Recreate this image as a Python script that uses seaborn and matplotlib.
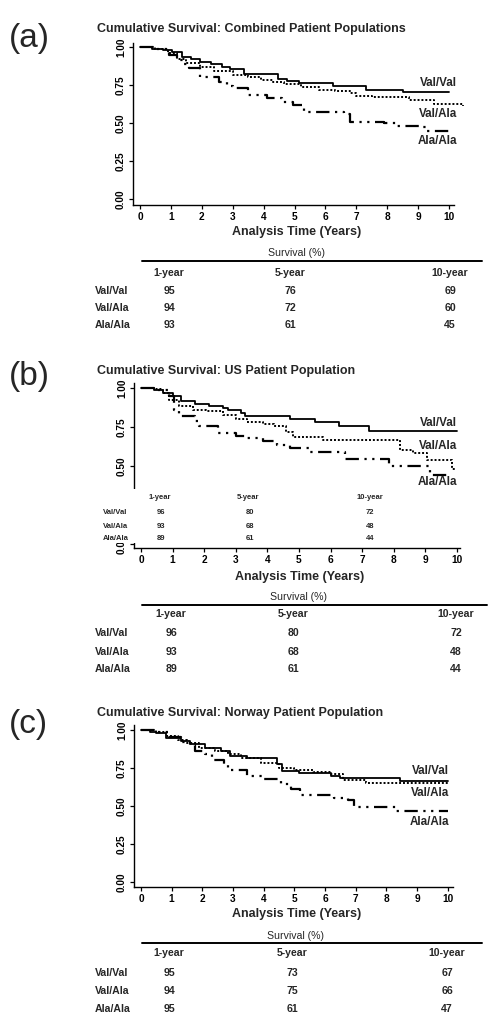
import numpy as np
import pandas as pd
import seaborn as sns
import matplotlib
matplotlib.use("Agg")
import matplotlib.pyplot as plt
from matplotlib.lines import Line2D
from matplotlib.patches import Rectangle

genotypes = ["Val/Val", "Val/Ala", "Ala/Ala"]
years = ["1-year", "5-year", "10-year"]
panel_letters = ["(a)", "(b)", "(c)"]
titles = ["Cumulative Survival: Combined Patient Populations",
          "Cumulative Survival: US Patient Population",
          "Cumulative Survival: Norway Patient Population"]

# (a) combined - step curves
a_vv_t = [0, 0.4, 0.75, 1.05, 1.35, 1.65, 1.95, 2.3, 2.65, 2.9, 3.35, 4.45, 4.75, 5.15, 6.25, 7.3, 8.5, 10]
a_vv_s = [1, 0.99, 0.98, 0.965, 0.935, 0.923, 0.90, 0.886, 0.869, 0.852, 0.825, 0.79, 0.777, 0.76, 0.742, 0.72, 0.705, 0.705]
a_va_t = [0, 0.5, 0.9, 1.2, 1.5, 1.95, 2.4, 3.0, 3.5, 3.9, 4.3, 4.65, 5.2, 5.8, 6.3, 6.8, 7.0, 7.5, 8.7, 9.5, 10.45]
a_va_s = [1, 0.99, 0.96, 0.92, 0.895, 0.87, 0.845, 0.815, 0.80, 0.78, 0.77, 0.755, 0.735, 0.72, 0.71, 0.70, 0.675, 0.668, 0.65, 0.628, 0.61]
a_aa_t = [0, 0.5, 0.95, 1.2, 1.4, 1.6, 1.95, 2.55, 2.8, 3.0, 3.5, 4.1, 4.6, 4.95, 5.3, 6.6, 6.8, 7.9, 8.3, 9.05, 9.3, 10]
a_aa_s = [1, 0.985, 0.945, 0.915, 0.89, 0.86, 0.803, 0.77, 0.745, 0.727, 0.687, 0.667, 0.639, 0.617, 0.573, 0.558, 0.508, 0.497, 0.479, 0.471, 0.448, 0.448]

# (b) US
b_vv_t = [0, 0.4, 0.7, 1.0, 1.25, 1.7, 2.15, 2.6, 2.75, 3.15, 3.3, 4.7, 5.5, 6.25, 7.2, 10]
b_vv_s = [1, 0.99, 0.968, 0.946, 0.914, 0.90, 0.886, 0.871, 0.856, 0.839, 0.82, 0.80, 0.779, 0.758, 0.725, 0.725]
b_va_t = [0, 0.4, 0.7, 0.9, 1.2, 1.65, 2.05, 2.6, 3.0, 3.35, 3.85, 4.2, 4.6, 4.8, 5.75, 8.2, 8.6, 9.05, 9.85, 9.95]
b_va_s = [1, 0.994, 0.97, 0.925, 0.882, 0.86, 0.85, 0.828, 0.80, 0.779, 0.77, 0.753, 0.72, 0.685, 0.663, 0.603, 0.582, 0.539, 0.479, 0.479]
b_aa_t = [0, 0.5, 0.9, 1.05, 1.2, 1.7, 1.85, 2.45, 3.0, 3.3, 3.85, 4.3, 4.7, 5.35, 6.45, 7.85, 9.15, 9.75]
b_aa_s = [1, 0.99, 0.95, 0.86, 0.817, 0.785, 0.753, 0.71, 0.689, 0.68, 0.657, 0.635, 0.614, 0.592, 0.545, 0.496, 0.442, 0.442]

# (c) Norway
c_vv_t = [0, 0.3, 0.5, 0.8, 1.3, 1.6, 2.1, 2.6, 2.9, 3.45, 4.45, 4.6, 5.15, 6.2, 6.5, 8.45, 10]
c_vv_s = [1, 0.99, 0.98, 0.95, 0.93, 0.905, 0.88, 0.86, 0.832, 0.815, 0.775, 0.728, 0.716, 0.70, 0.685, 0.667, 0.667]
c_va_t = [0, 0.5, 0.85, 1.2, 1.5, 1.9, 2.4, 2.85, 3.25, 3.9, 4.5, 5.0, 5.6, 6.2, 6.6, 7.35, 10]
c_va_s = [1, 0.985, 0.96, 0.935, 0.912, 0.88, 0.865, 0.84, 0.815, 0.785, 0.75, 0.735, 0.725, 0.71, 0.672, 0.655, 0.655]
c_aa_t = [0, 0.5, 0.9, 1.3, 1.6, 1.75, 2.1, 2.3, 2.7, 2.85, 3.45, 4.0, 4.55, 4.9, 5.2, 6.3, 6.75, 6.95, 8.3, 10]
c_aa_s = [1, 0.985, 0.955, 0.92, 0.90, 0.86, 0.845, 0.80, 0.78, 0.74, 0.70, 0.675, 0.645, 0.61, 0.573, 0.555, 0.54, 0.495, 0.465, 0.465]

# survival tables (%), rows = genotypes, cols = years
surv_a = [[95, 76, 69], [94, 72, 60], [93, 61, 45]]
surv_b = [[96, 80, 72], [93, 68, 48], [89, 61, 44]]
surv_c = [[95, 73, 67], [94, 75, 66], [95, 61, 47]]

curves = [
    [(a_vv_t, a_vv_s), (a_va_t, a_va_s), (a_aa_t, a_aa_s)],
    [(b_vv_t, b_vv_s), (b_va_t, b_va_s), (b_aa_t, b_aa_s)],
    [(c_vv_t, c_vv_s), (c_va_t, c_va_s), (c_aa_t, c_aa_s)],
]
tables = [surv_a, surv_b, surv_c]

W, H = 498, 1030


def fx(px):
    return px / W


def fy(py):
    return 1 - py / H


sns.set_style("ticks")
plt.rcParams['font.family'] = ['Liberation Sans', 'DejaVu Sans']

fig = plt.figure(figsize=(W / 100, H / 100), dpi=100)

styles = {
    "Val/Val": dict(linestyle="-", linewidth=1.3),
    "Val/Ala": dict(linestyle=(0, (1, 1)), linewidth=1.4),
    "Ala/Ala": dict(linestyle=(0, (6, 2.5, 1, 2.5, 1, 2.5)), linewidth=1.6),
}

# layout in pixels: axes box (left, top, right, bottom), x=0/x=10 px, y=1/y=0 px
layouts = [
    dict(box=(133, 43, 454, 205), x0=140, x10=449, y1=47, y0=199, letter_y=38, title_y=29,
         xlab_y=232, labels_y=[83, 114, 141], label_x=457,
         tab=dict(title=(296, 253), line=(142, 482, 261), head_y=273, cols=[169, 290, 450], rows=[291, 308, 325])),
    dict(box=(134, 383, 460, 548), x0=141, x10=457, y1=388, y0=543.7, letter_y=377, title_y=371,
         xlab_y=577, labels_y=[423, 446, 482], label_x=457,
         tab=dict(title=(298, 597), line=(142, 487, 605), head_y=614, cols=[171, 293, 456], rows=[633, 652, 669])),
    dict(box=(134, 725, 453, 887), x0=141, x10=447.7, y1=730, y0=882.3, letter_y=725, title_y=713,
         xlab_y=914, labels_y=[771, 793, 822], label_x=449,
         tab=dict(title=(295, 936), line=(142, 482, 943), head_y=953, cols=[169, 292, 447], rows=[973, 991, 1009])),
]

for i, lay in enumerate(layouts):
    l, t, r, b = lay["box"]
    ax = fig.add_axes([fx(l), fy(b), (r - l) / W, (b - t) / H])
    xs = (lay["x10"] - lay["x0"]) / 10
    ys = lay["y0"] - lay["y1"]
    ax.set_xlim(-(lay["x0"] - l) / xs, 10 + (r - lay["x10"]) / xs)
    ax.set_ylim(-(b - lay["y0"]) / ys, 1 + (lay["y1"] - t) / ys)

    for g, (tt, ss) in zip(genotypes, curves[i]):
        df = pd.DataFrame({"t": tt, "s": ss})
        sns.lineplot(data=df, x="t", y="s", ax=ax, color="black", drawstyle="steps-post",
                     estimator=None, errorbar=None, clip_on=False, **styles[g])

    ylabs = ["0.00", "0.25", "0.50", "0.75", "1.00"]
    if i == 1:
        ylabs[1] = ""  # hidden under the pasted table in the original
    ax.set_xticks(range(0, 11))
    ax.set_xticklabels([str(k) for k in range(0, 11)], fontweight="bold", fontsize=7.3)
    ax.set_yticks([0, 0.25, 0.5, 0.75, 1.0])
    ax.set_yticklabels(ylabs, rotation=90, va="center", fontweight="bold", fontsize=7.2)
    ax.tick_params(length=3, width=0.9, pad=2, colors="black")
    ax.set_ylabel("")
    ax.set_xlabel("")
    for sp in ["left", "bottom"]:
        ax.spines[sp].set_linewidth(1.0)
        ax.spines[sp].set_color("black")
    sns.despine(ax=ax)

    # curve labels
    for g, py in zip(genotypes, lay["labels_y"]):
        fig.text(fx(lay["label_x"]), fy(py), g, ha="right", va="center", fontsize=8.4, fontweight="bold")

    fig.text(fx(9), fy(lay["letter_y"]), panel_letters[i], ha="left", va="center", fontsize=24)
    fig.text(fx(97), fy(lay["title_y"]), titles[i], ha="left", va="center", fontsize=9, fontweight="bold")
    fig.text(fx((l + r) / 2 + 3), fy(lay["xlab_y"]), "Analysis Time (Years)", ha="center", va="center",
             fontsize=9, fontweight="bold")

    # table below
    tb = lay["tab"]
    fig.text(fx(tb["title"][0]), fy(tb["title"][1]), "Survival (%)", ha="center", va="center", fontsize=7.6)
    x1, x2, ly = tb["line"]
    fig.add_artist(Line2D([fx(x1), fx(x2)], [fy(ly), fy(ly)], color="black", lw=1.4))
    for cx, yr in zip(tb["cols"], years):
        fig.text(fx(cx), fy(tb["head_y"]), yr, ha="center", va="center", fontsize=7.6, fontweight="bold")
    for ry, g, vals in zip(tb["rows"], genotypes, tables[i]):
        fig.text(fx(95), fy(ry), g, ha="left", va="center", fontsize=7.6, fontweight="bold")
        for cx, v in zip(tb["cols"], vals):
            fig.text(fx(cx), fy(ry), str(v), ha="center", va="center", fontsize=7.6, fontweight="bold")

# inset table pasted over panel (b)
fig.add_artist(Rectangle((fx(96), fy(543)), (400 - 96) / W, (543 - 489) / H, facecolor="white",
                         edgecolor="none", zorder=5))
for cx, yr in zip([160, 248, 370], years):
    fig.text(fx(cx), fy(498), yr, ha="center", va="center", fontsize=5.5, fontweight="bold", zorder=6)
for ry, g, vals in zip([513, 526, 539], genotypes, surv_b):
    fig.text(fx(103), fy(ry), g, ha="left", va="center", fontsize=5.5, fontweight="bold", zorder=6)
    for cx, v in zip([161, 250, 370], vals):
        fig.text(fx(cx), fy(ry), str(v), ha="center", va="center", fontsize=5.5, fontweight="bold", zorder=6)

fig.savefig("out.png", dpi=100, facecolor="white")
